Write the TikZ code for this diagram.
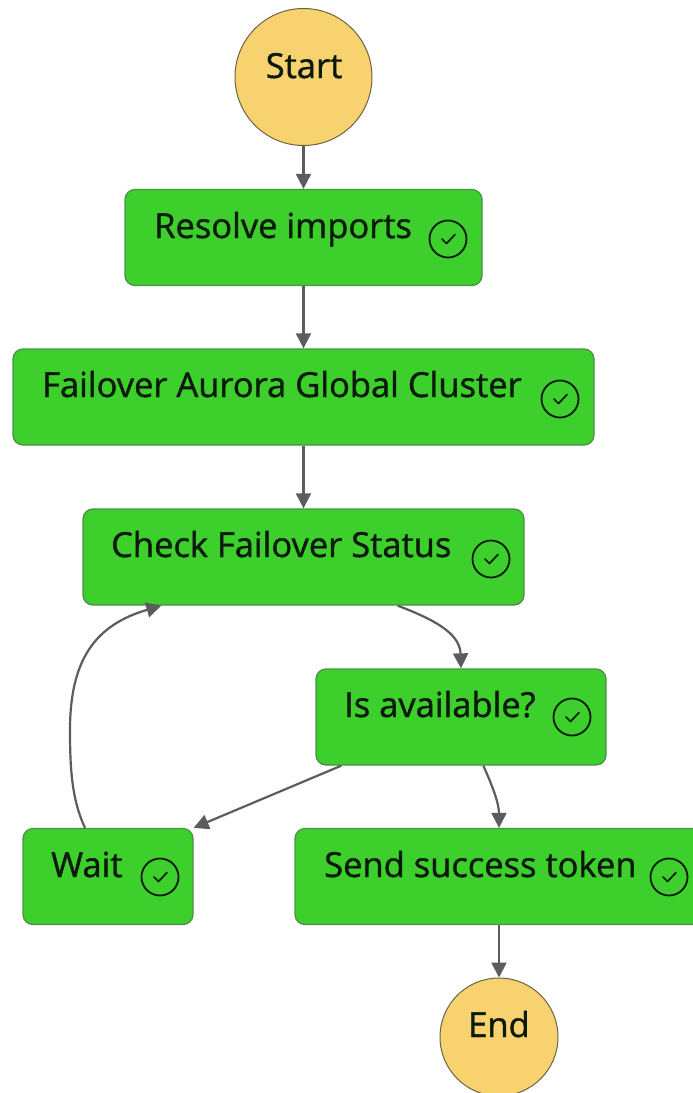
\documentclass[tikz,border=0pt]{standalone}
\usepackage{fontspec}
\setmainfont[FakeBold=1.2]{Open Sans}
\usetikzlibrary{arrows.meta,positioning}
\definecolor{stategreen}{HTML}{3DD02C}
\definecolor{stateedge}{HTML}{4F8F48}
\definecolor{termyellow}{HTML}{F8D26E}
\definecolor{termedge}{HTML}{6B6248}
\definecolor{linkgrey}{HTML}{5A5C60}
\definecolor{inkdark}{HTML}{0B1A0B}
\tikzset{
  x=1pt,y=-1pt,
  statebox/.style={draw=stateedge,line width=1.3pt,fill=stategreen,rounded corners=10pt,minimum height=96pt,inner sep=0pt},
  termcircle/.style={circle,draw=termedge,line width=1pt,fill=termyellow,inner sep=0pt},
  caption/.style={text=inkdark,font=\fontsize{34.5}{38}\selectfont,inner sep=0pt,anchor=base west},
  tick/.style={circle,draw=inkdark,line width=1.8pt,minimum size=37pt,inner sep=0pt},
  link/.style={draw=linkgrey,line width=2.2pt,-{Triangle[length=15pt,width=15pt]}},
}
\newcommand{\tickmark}[1]{\draw[inkdark,line width=1.7pt,line cap=round,line join=round]
  ([shift={(-6pt,0pt)}]#1.center) -- ([shift={(-1.5pt,-4.5pt)}]#1.center) -- ([shift={(7pt,4.5pt)}]#1.center);}
\begin{document}
\begin{tikzpicture}
\useasboundingbox (0,0) rectangle (693,1093);
\begin{scope}
\clip (0,0) rectangle (693,1093);
\node[termcircle,minimum size=137pt] (start) at (303.5,77) {};
\node[statebox,minimum width=357pt] (resolve) at (303.5,237.5) {};
\node[statebox,minimum width=581pt] (failover) at (303.5,397) {};
\node[statebox,minimum width=441pt] (check) at (303.5,557) {};
\node[statebox,minimum width=290pt] (avail) at (461,717) {};
\node[statebox,minimum width=170pt] (wait) at (108,876.5) {};
\node[statebox,minimum width=420pt] (send) at (505,876.5) {};
\node[termcircle,minimum size=118pt] (end) at (499,1037) {};
\end{scope}
\node[caption,anchor=base] (t0) at (304,78) {Start};
\node[caption] (t1) at (154,238) {Resolve imports};
\node[caption] (t2) at (42,397) {Failover Aurora Global Cluster};
\node[caption] (t3) at (111,557) {Check Failover Status};
\node[caption] (t4) at (344,717) {Is available?};
\node[caption] (t5) at (51,877) {Wait};
\node[caption] (t6) at (324,877) {Send success token};
\node[caption,anchor=base] (t7) at (499,1037) {End};
\node[tick] (c1) at (448,239) {};
\node[tick] (c2) at (560,399) {};
\node[tick] (c3) at (491,559) {};
\node[tick] (c4) at (572,717) {};
\node[tick] (c5) at (160,877) {};
\node[tick] (c6) at (669,877) {};
\tickmark{c1}\tickmark{c2}\tickmark{c3}\tickmark{c4}\tickmark{c5}\tickmark{c6}
\draw[link] (start.south) -- (resolve.north);
\draw[link] (resolve.south) -- (failover.north);
\draw[link] (failover.south) -- (check.north);
\draw[link] ([xshift=-127pt]check.south east) .. controls (430,618) and (460,632) .. (avail.north);
\draw[link] ([xshift=26pt]avail.south west) -- (wait.north east);
\draw[link] ([xshift=168pt]avail.south west) .. controls (492,785) and (499,803) .. ([xshift=-6pt]send.north);
\draw[link] ([xshift=-6pt]send.south) -- (end.north);
\draw[link] ([xshift=-23pt]wait.north) .. controls (72,800) and (70,770) .. (70,730) .. controls (70,660) and (95,625) .. ([xshift=79pt]check.south west);
\end{tikzpicture}
\end{document}
